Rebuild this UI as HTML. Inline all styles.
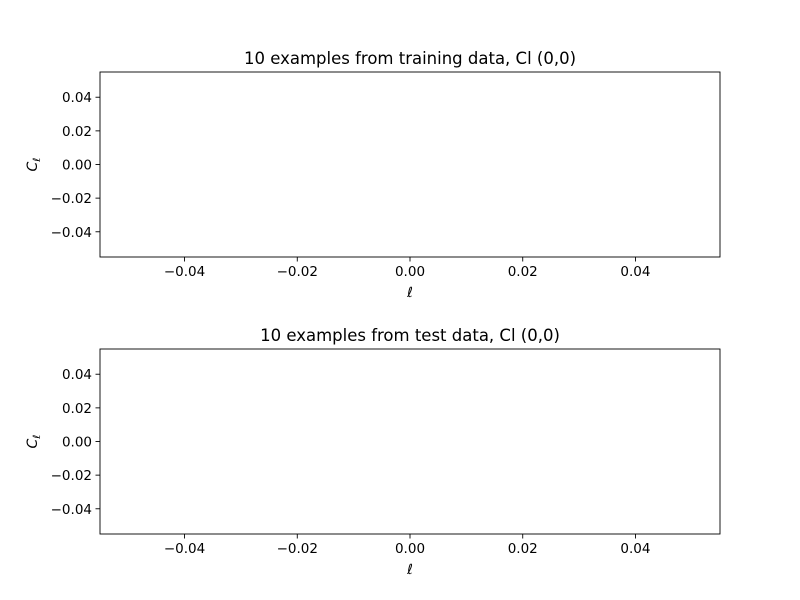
<!DOCTYPE html>
<html><head><meta charset="utf-8"><style>
body{margin:0;background:#fff;}
svg{display:block;font-family:"DejaVu Sans","Liberation Sans",sans-serif;}
</style></head><body>
<svg id="chart" width="800" height="600"></svg>
<script>
const xTicks=[-0.04,-0.02,0.00,0.02,0.04];
const yTicks=[-0.04,-0.02,0.00,0.02,0.04];
const xTickLabels=["−0.04","−0.02","0.00","0.02","0.04"];
const yTickLabels=["−0.04","−0.02","0.00","0.02","0.04"];
const titles=["10 examples from training data, Cl (0,0)","10 examples from test data, Cl (0,0)"];
const xDomain=[-0.055,0.055];
const yDomain=[-0.055,0.055];
const NS="http://www.w3.org/2000/svg";
const svg=document.getElementById('chart');
function mk(t,a,p){const e=document.createElementNS(NS,t);for(const k in a)e.setAttribute(k,a[k]);(p||svg).appendChild(e);return e;}
const panels=[{x:100,y:72,w:620,h:185},{x:100,y:349,w:620,h:185}];
panels.forEach((P,i)=>{
  const g=mk('g',{});
  
  
  const sx=v=>P.x+(v-xDomain[0])/(xDomain[1]-xDomain[0])*P.w;
  const sy=v=>P.y+P.h-(v-yDomain[0])/(yDomain[1]-yDomain[0])*P.h;
  const r=mk('rect',{x:P.x,y:P.y,width:P.w,height:P.h,fill:'none',stroke:'#000','stroke-width':0.9},g);
  
  
  xTicks.forEach((v,j)=>{
    const x=sx(v);
    mk('line',{x1:x,x2:x,y1:P.y+P.h,y2:P.y+P.h+4.5,stroke:'#000','stroke-width':0.9},g);
    const t=mk('text',{x:x,y:P.y+P.h+19,'text-anchor':'middle','font-size':13.5},g);
    t.textContent=xTickLabels[j];
    
    
  });
  yTicks.forEach((v,j)=>{
    const y=sy(v);
    mk('line',{x1:P.x-4.5,x2:P.x,y1:y,y2:y,stroke:'#000','stroke-width':0.9},g);
    const t=mk('text',{x:P.x-8,y:y+5,'text-anchor':'end','font-size':13.5},g);
    t.textContent=yTickLabels[j];
    
    
  });
  const tt=mk('text',{x:P.x+P.w/2,y:P.y-8,'text-anchor':'middle','font-size':16.5},g);
  tt.textContent=titles[i];
  
  
  const xl=mk('text',{x:P.x+P.w/2,y:P.y+P.h+40,'text-anchor':'middle','font-size':14,'font-style':'italic'},g);
  xl.textContent='ℓ';
  
  
  const cy=P.y+P.h/2;
  const yl=mk('text',{x:0,y:0,'text-anchor':'middle','font-size':14,'font-style':'italic',transform:`translate(37,${cy}) rotate(-90)`},g);
  yl.innerHTML='C<tspan font-size="10" dy="3">ℓ</tspan>';
  
  
});
</script>
</body></html>
